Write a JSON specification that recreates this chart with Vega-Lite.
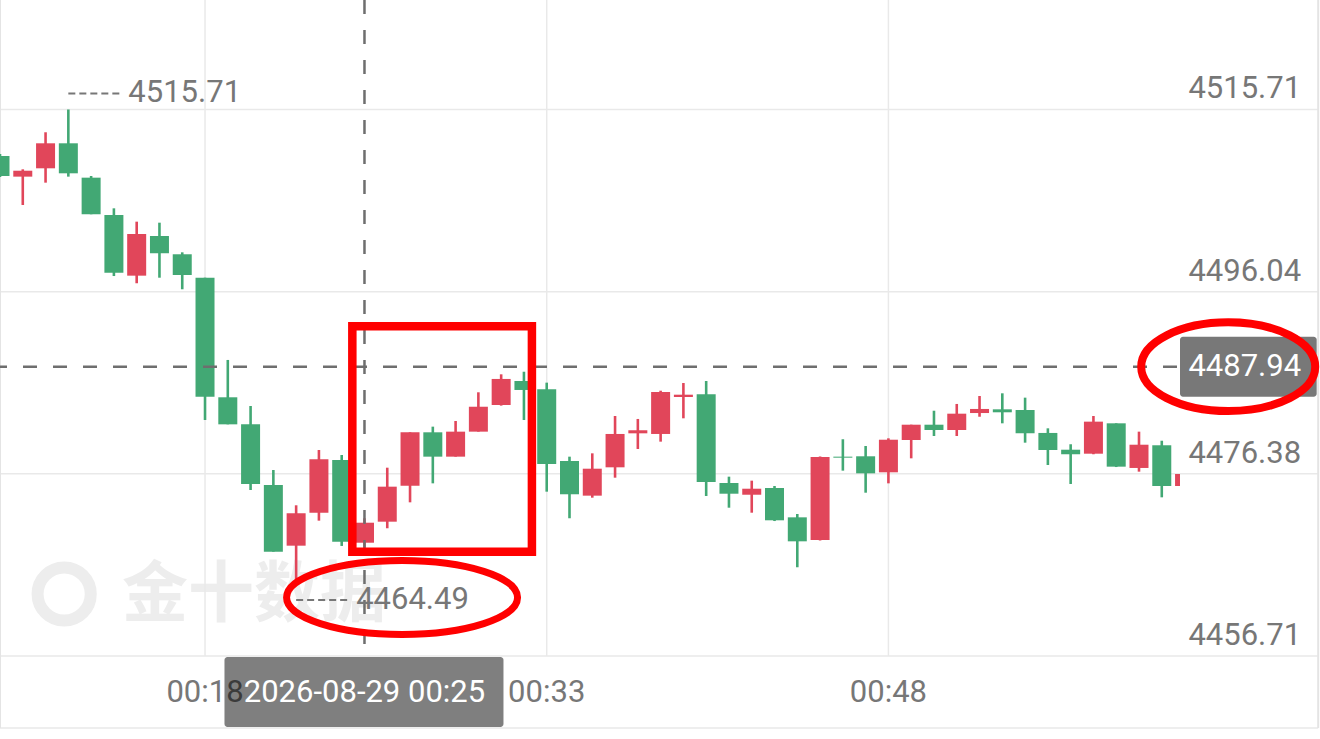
{
  "$schema": "https://vega.github.io/schema/vega-lite/v6.json",
  "width": 1180,
  "height": 656,
  "autosize": {"type": "none"},
  "padding": {"left": 0, "top": 0, "right": 140, "bottom": 83},
  "background": "white",
  "config": {"view": {"stroke": null}},
  "datasets": {
    "k": [
      {"t": "2026-08-29T00:09:00", "open": 4510.69, "high": 4510.91, "low": 4508.42, "close": 4508.53},
      {"t": "2026-08-29T00:10:00", "open": 4508.46, "high": 4509.25, "low": 4505.40, "close": 4509.10},
      {"t": "2026-08-29T00:11:00", "open": 4509.36, "high": 4513.25, "low": 4507.81, "close": 4512.06},
      {"t": "2026-08-29T00:12:00", "open": 4512.06, "high": 4515.71, "low": 4508.46, "close": 4508.82},
      {"t": "2026-08-29T00:13:00", "open": 4508.35, "high": 4508.53, "low": 4504.40, "close": 4504.40},
      {"t": "2026-08-29T00:14:00", "open": 4504.32, "high": 4505.04, "low": 4497.73, "close": 4498.09},
      {"t": "2026-08-29T00:15:00", "open": 4497.77, "high": 4503.60, "low": 4496.95, "close": 4502.27},
      {"t": "2026-08-29T00:16:00", "open": 4502.05, "high": 4503.49, "low": 4497.55, "close": 4500.19},
      {"t": "2026-08-29T00:17:00", "open": 4500.08, "high": 4500.29, "low": 4496.30, "close": 4497.84},
      {"t": "2026-08-29T00:18:00", "open": 4497.55, "high": 4497.55, "low": 4482.19, "close": 4484.70},
      {"t": "2026-08-29T00:19:00", "open": 4484.64, "high": 4488.67, "low": 4481.72, "close": 4481.72},
      {"t": "2026-08-29T00:20:00", "open": 4481.72, "high": 4483.70, "low": 4474.63, "close": 4475.28},
      {"t": "2026-08-29T00:21:00", "open": 4475.17, "high": 4476.79, "low": 4467.97, "close": 4467.97},
      {"t": "2026-08-29T00:22:00", "open": 4468.62, "high": 4472.98, "low": 4464.49, "close": 4472.12},
      {"t": "2026-08-29T00:23:00", "open": 4472.18, "high": 4478.95, "low": 4471.32, "close": 4477.95},
      {"t": "2026-08-29T00:24:00", "open": 4477.87, "high": 4478.41, "low": 4468.59, "close": 4469.05},
      {"t": "2026-08-29T00:25:00", "open": 4468.94, "high": 4471.58, "low": 4468.40, "close": 4471.10},
      {"t": "2026-08-29T00:26:00", "open": 4471.21, "high": 4477.04, "low": 4470.50, "close": 4474.99},
      {"t": "2026-08-29T00:27:00", "open": 4475.10, "high": 4480.86, "low": 4473.30, "close": 4480.86},
      {"t": "2026-08-29T00:28:00", "open": 4480.86, "high": 4481.47, "low": 4475.35, "close": 4478.23},
      {"t": "2026-08-29T00:29:00", "open": 4478.23, "high": 4482.08, "low": 4478.23, "close": 4480.93},
      {"t": "2026-08-29T00:30:00", "open": 4480.93, "high": 4485.18, "low": 4480.93, "close": 4483.62},
      {"t": "2026-08-29T00:31:00", "open": 4483.81, "high": 4487.12, "low": 4483.74, "close": 4486.62},
      {"t": "2026-08-29T00:32:00", "open": 4486.40, "high": 4487.40, "low": 4482.19, "close": 4485.43},
      {"t": "2026-08-29T00:33:00", "open": 4485.50, "high": 4486.22, "low": 4474.45, "close": 4477.44},
      {"t": "2026-08-29T00:34:00", "open": 4477.76, "high": 4478.23, "low": 4471.58, "close": 4474.17},
      {"t": "2026-08-29T00:35:00", "open": 4474.02, "high": 4478.59, "low": 4473.80, "close": 4476.93},
      {"t": "2026-08-29T00:36:00", "open": 4477.08, "high": 4482.62, "low": 4475.96, "close": 4480.68},
      {"t": "2026-08-29T00:37:00", "open": 4480.75, "high": 4482.30, "low": 4479.06, "close": 4481.08},
      {"t": "2026-08-29T00:38:00", "open": 4480.68, "high": 4485.35, "low": 4479.85, "close": 4485.21},
      {"t": "2026-08-29T00:39:00", "open": 4484.67, "high": 4486.18, "low": 4482.37, "close": 4484.92},
      {"t": "2026-08-29T00:40:00", "open": 4484.96, "high": 4486.40, "low": 4473.98, "close": 4475.49},
      {"t": "2026-08-29T00:41:00", "open": 4475.39, "high": 4476.07, "low": 4472.72, "close": 4474.23},
      {"t": "2026-08-29T00:42:00", "open": 4474.12, "high": 4475.64, "low": 4472.18, "close": 4474.77},
      {"t": "2026-08-29T00:43:00", "open": 4474.85, "high": 4475.06, "low": 4471.28, "close": 4471.36},
      {"t": "2026-08-29T00:44:00", "open": 4471.68, "high": 4472.04, "low": 4466.29, "close": 4469.09},
      {"t": "2026-08-29T00:45:00", "open": 4469.23, "high": 4478.25, "low": 4469.18, "close": 4478.19},
      {"t": "2026-08-29T00:46:00", "open": 4478.23, "high": 4480.11, "low": 4476.72, "close": 4478.12},
      {"t": "2026-08-29T00:47:00", "open": 4478.27, "high": 4479.38, "low": 4474.34, "close": 4476.43},
      {"t": "2026-08-29T00:48:00", "open": 4476.54, "high": 4480.21, "low": 4475.35, "close": 4480.06},
      {"t": "2026-08-29T00:49:00", "open": 4480.03, "high": 4481.68, "low": 4478.05, "close": 4481.68},
      {"t": "2026-08-29T00:50:00", "open": 4481.68, "high": 4483.19, "low": 4480.46, "close": 4481.11},
      {"t": "2026-08-29T00:51:00", "open": 4481.11, "high": 4483.92, "low": 4480.46, "close": 4482.87},
      {"t": "2026-08-29T00:52:00", "open": 4482.94, "high": 4484.78, "low": 4482.54, "close": 4483.38},
      {"t": "2026-08-29T00:53:00", "open": 4483.34, "high": 4485.07, "low": 4481.83, "close": 4483.02},
      {"t": "2026-08-29T00:54:00", "open": 4483.27, "high": 4484.60, "low": 4479.74, "close": 4480.75},
      {"t": "2026-08-29T00:55:00", "open": 4480.79, "high": 4481.29, "low": 4477.33, "close": 4478.95},
      {"t": "2026-08-29T00:56:00", "open": 4478.98, "high": 4479.57, "low": 4475.28, "close": 4478.49},
      {"t": "2026-08-29T00:57:00", "open": 4478.55, "high": 4482.62, "low": 4478.49, "close": 4482.01},
      {"t": "2026-08-29T00:58:00", "open": 4481.83, "high": 4481.83, "low": 4477.11, "close": 4477.15},
      {"t": "2026-08-29T00:59:00", "open": 4477.01, "high": 4480.93, "low": 4476.61, "close": 4479.52},
      {"t": "2026-08-29T01:00:00", "open": 4479.46, "high": 4479.95, "low": 4473.84, "close": 4475.06},
      {"t": "2026-08-29T01:01:00", "open": 4475.06, "high": 4476.36, "low": 4475.06, "close": 4476.36}
    ],
    "grid": [
      {"price": 4515.71},
      {"price": 4496.04},
      {"price": 4476.38},
      {"price": 4456.71}
    ],
    "ticks": [
      {"t": "2026-08-29T00:18:00"},
      {"t": "2026-08-29T00:33:00"},
      {"t": "2026-08-29T00:48:00"}
    ],
    "cross": [
      {"t": "2026-08-29T00:25:00", "price": 4487.94}
    ],
    "ext": [
      {"t": "2026-08-29T00:12:00", "price": 4515.71, "kind": "max"},
      {"t": "2026-08-29T00:22:00", "price": 4464.49, "kind": "min"}
    ],
    "wm": [
      {"item": "logo", "t": "2026-08-29T00:11:49", "price": 4463.40},
      {"item": "text", "t": "2026-08-29T00:20:09", "price": 4463.40, "label": "金十数据"}
    ],
    "box": [
      {"t0": "2026-08-29T00:24:28", "t1": "2026-08-29T00:32:21", "p0": 4492.31, "p1": 4467.97}
    ],
    "ell": [
      {"which": "low", "t": "2026-08-29T00:26:39", "price": 4463.03},
      {"which": "last", "t": "2026-08-29T01:02:55", "price": 4487.94}
    ]
  },
  "layer": [
    {
      "data": {"name": "wm"},
      "transform": [{"filter": "datum.item === 'logo'"}],
      "mark": {"type": "point", "shape": "circle", "filled": false, "stroke": "#ededed", "strokeWidth": 12, "size": 2827, "opacity": 1},
      "encoding": {
        "x": {"field": "t", "type": "temporal", "axis": null,
              "scale": {"domain": [{"year": 2026, "month": 8, "date": 29, "hours": 0, "minutes": 9}, {"year": 2026, "month": 8, "date": 29, "hours": 1, "minutes": 0, "seconds": 48}], "nice": false, "padding": 0}},
        "y": {"field": "price", "type": "quantitative", "axis": null,
              "scale": {"domain": [4456.71, 4527.53], "nice": false, "zero": false, "padding": 0}}
      }
    },
    {
      "data": {"name": "wm"},
      "transform": [{"filter": "datum.item === 'text'"}],
      "mark": {"type": "text", "font": "Noto Sans CJK SC", "fontWeight": "bold", "fontSize": 66, "color": "#ededed", "align": "center", "baseline": "middle", "dy": 2},
      "encoding": {
        "x": {"field": "t", "type": "temporal", "axis": null},
        "y": {"field": "price", "type": "quantitative", "axis": null},
        "text": {"field": "label"}
      }
    },
    {
      "data": {"name": "grid"},
      "mark": {"type": "rule", "stroke": "#e9e9e9", "strokeWidth": 1.5},
      "encoding": {
        "y": {"field": "price", "type": "quantitative", "axis": null},
        "x": {"datum": {"year": 2026, "month": 8, "date": 29, "hours": 0, "minutes": 9}, "type": "temporal", "axis": null},
        "x2": {"datum": {"year": 2026, "month": 8, "date": 29, "hours": 1, "minutes": 6, "seconds": 52}}
      }
    },
    {
      "data": {"name": "ticks"},
      "mark": {"type": "rule", "stroke": "#e9e9e9", "strokeWidth": 1.5},
      "encoding": {
        "x": {"field": "t", "type": "temporal", "axis": null}
      }
    },
    {
      "data": {"name": "ticks"},
      "mark": {"type": "text", "font": "Roboto", "fontSize": 31, "color": "#777777", "align": "center", "baseline": "middle", "dy": 37},
      "encoding": {
        "x": {"field": "t", "type": "temporal", "axis": null},
        "y": {"datum": 4456.71, "type": "quantitative", "axis": null},
        "text": {"field": "t", "type": "temporal", "format": "%H:%M"}
      }
    },
    {
      "data": {"name": "cross"},
      "mark": {"type": "rule", "stroke": "#e9e9e9", "strokeWidth": 1.5},
      "encoding": {
        "y": {"datum": 4448.94, "type": "quantitative", "axis": null},
        "x": {"datum": {"year": 2026, "month": 8, "date": 29, "hours": 0, "minutes": 9}, "type": "temporal", "axis": null},
        "x2": {"datum": {"year": 2026, "month": 8, "date": 29, "hours": 1, "minutes": 6, "seconds": 52}}
      }
    },
    {
      "data": {"name": "cross"},
      "mark": {"type": "rule", "stroke": "#e4e4e4", "strokeWidth": 2},
      "encoding": {
        "x": {"datum": {"year": 2026, "month": 8, "date": 29, "hours": 0, "minutes": 9}, "type": "temporal", "axis": null},
        "y": {"datum": 4527.53, "type": "quantitative", "axis": null},
        "y2": {"datum": 4448.94}
      }
    },
    {
      "data": {"name": "cross"},
      "mark": {"type": "rule", "stroke": "#e4e4e4", "strokeWidth": 2},
      "encoding": {
        "x": {"datum": {"year": 2026, "month": 8, "date": 29, "hours": 1, "minutes": 6, "seconds": 52}, "type": "temporal", "axis": null},
        "y": {"datum": 4527.53, "type": "quantitative", "axis": null},
        "y2": {"datum": 4448.94}
      }
    },
    {
      "data": {"name": "k"},
      "mark": {"type": "rule", "strokeWidth": 2.6, "clip": true},
      "encoding": {
        "x": {"field": "t", "type": "temporal", "axis": null},
        "y": {"field": "low", "type": "quantitative", "axis": null},
        "y2": {"field": "high"},
        "color": {"condition": {"test": "datum.close >= datum.open", "value": "#e1465a"}, "value": "#42a874"}
      }
    },
    {
      "data": {"name": "k"},
      "mark": {"type": "bar", "size": 19, "clip": true, "orient": "vertical"},
      "encoding": {
        "x": {"field": "t", "type": "temporal", "axis": null},
        "y": {"field": "open", "type": "quantitative", "axis": null},
        "y2": {"field": "close"},
        "color": {"condition": {"test": "datum.close >= datum.open", "value": "#e1465a"}, "value": "#42a874"}
      }
    },
    {
      "data": {"name": "cross"},
      "mark": {"type": "rule", "stroke": "#6e6e6e", "strokeWidth": 2.5, "strokeDash": [14, 16]},
      "encoding": {
        "x": {"field": "t", "type": "temporal", "axis": null}
      }
    },
    {
      "data": {"name": "cross"},
      "mark": {"type": "rule", "stroke": "#6e6e6e", "strokeWidth": 2.5, "strokeDash": [14, 16], "strokeDashOffset": -3},
      "encoding": {
        "y": {"field": "price", "type": "quantitative", "axis": null}
      }
    },
    {
      "data": {"name": "ext"},
      "transform": [{"filter": "datum.kind === 'max'"}],
      "mark": {"type": "rule", "stroke": "#777777", "strokeWidth": 2, "strokeDash": [7, 4], "x2Offset": 54, "yOffset": -16},
      "encoding": {
        "x": {"field": "t", "type": "temporal", "axis": null},
        "x2": {"field": "t"},
        "y": {"field": "price", "type": "quantitative", "axis": null}
      }
    },
    {
      "data": {"name": "ext"},
      "transform": [{"filter": "datum.kind === 'max'"}],
      "mark": {"type": "text", "font": "Roboto", "fontSize": 31, "color": "#777777", "align": "left", "baseline": "middle", "dx": 60, "dy": -16},
      "encoding": {
        "x": {"field": "t", "type": "temporal", "axis": null},
        "y": {"field": "price", "type": "quantitative", "axis": null},
        "text": {"field": "price", "type": "quantitative", "format": ".2f"}
      }
    },
    {
      "data": {"name": "ext"},
      "transform": [{"filter": "datum.kind === 'min'"}],
      "mark": {"type": "rule", "stroke": "#777777", "strokeWidth": 2, "strokeDash": [7, 4], "x2Offset": 54, "yOffset": 16},
      "encoding": {
        "x": {"field": "t", "type": "temporal", "axis": null},
        "x2": {"field": "t"},
        "y": {"field": "price", "type": "quantitative", "axis": null}
      }
    },
    {
      "data": {"name": "ext"},
      "transform": [{"filter": "datum.kind === 'min'"}],
      "mark": {"type": "text", "font": "Roboto", "fontSize": 31, "color": "#777777", "align": "left", "baseline": "middle", "dx": 60, "dy": 16},
      "encoding": {
        "x": {"field": "t", "type": "temporal", "axis": null},
        "y": {"field": "price", "type": "quantitative", "axis": null},
        "text": {"field": "price", "type": "quantitative", "format": ".2f"}
      }
    },
    {
      "data": {"name": "grid"},
      "mark": {"type": "text", "font": "Roboto", "fontSize": 31, "color": "#777777", "align": "right", "baseline": "alphabetic", "dy": -11},
      "encoding": {
        "x": {"datum": {"year": 2026, "month": 8, "date": 29, "hours": 1, "minutes": 6, "seconds": 7}, "type": "temporal", "axis": null},
        "y": {"field": "price", "type": "quantitative", "axis": null},
        "text": {"field": "price", "type": "quantitative", "format": ".2f"}
      }
    },
    {
      "data": {"name": "cross"},
      "mark": {"type": "rect", "fill": "#000000", "fillOpacity": 0.53, "cornerRadius": 3, "yOffset": -30, "y2Offset": 30},
      "encoding": {
        "x": {"datum": {"year": 2026, "month": 8, "date": 29, "hours": 1, "minutes": 0, "seconds": 48}, "type": "temporal", "axis": null},
        "x2": {"datum": {"year": 2026, "month": 8, "date": 29, "hours": 1, "minutes": 6, "seconds": 48}},
        "y": {"field": "price", "type": "quantitative", "axis": null},
        "y2": {"field": "price"}
      }
    },
    {
      "data": {"name": "cross"},
      "mark": {"type": "text", "font": "Roboto", "fontSize": 31, "color": "#ffffff", "align": "right", "baseline": "middle"},
      "encoding": {
        "x": {"datum": {"year": 2026, "month": 8, "date": 29, "hours": 1, "minutes": 6, "seconds": 7}, "type": "temporal", "axis": null},
        "y": {"field": "price", "type": "quantitative", "axis": null},
        "text": {"field": "price", "type": "quantitative", "format": ".2f"}
      }
    },
    {
      "data": {"name": "cross"},
      "mark": {"type": "rect", "fill": "#000000", "fillOpacity": 0.5, "cornerRadius": 3, "xOffset": -140, "x2Offset": 139, "yOffset": 1, "y2Offset": 71},
      "encoding": {
        "x": {"field": "t", "type": "temporal", "axis": null},
        "x2": {"field": "t"},
        "y": {"datum": 4456.71, "type": "quantitative", "axis": null},
        "y2": {"datum": 4456.71}
      }
    },
    {
      "data": {"name": "cross"},
      "mark": {"type": "text", "font": "Roboto", "fontSize": 31, "color": "#ffffff", "align": "center", "baseline": "middle", "dy": 37},
      "encoding": {
        "x": {"field": "t", "type": "temporal", "axis": null},
        "y": {"datum": 4456.71, "type": "quantitative", "axis": null},
        "text": {"field": "t", "type": "temporal", "format": "%Y-%m-%d %H:%M"}
      }
    },
    {
      "data": {"name": "box"},
      "mark": {"type": "rect", "filled": false, "stroke": "#ff0000", "strokeWidth": 8.5, "fill": null},
      "encoding": {
        "x": {"field": "t0", "type": "temporal", "axis": null},
        "x2": {"field": "t1"},
        "y": {"field": "p0", "type": "quantitative", "axis": null},
        "y2": {"field": "p1"}
      }
    },
    {
      "data": {"name": "ell"},
      "transform": [{"filter": "datum.which === 'low'"}],
      "mark": {"type": "point", "filled": false, "stroke": "#ff0000", "strokeWidth": 7, "opacity": 1, "size": 53361,
               "shape": "M-1,0C-1,-0.1767,-0.5523,-0.32,0,-0.32C0.5523,-0.32,1,-0.1767,1,0C1,0.1767,0.5523,0.32,0,0.32C-0.5523,0.32,-1,0.1767,-1,0Z"},
      "encoding": {
        "x": {"field": "t", "type": "temporal", "axis": null},
        "y": {"field": "price", "type": "quantitative", "axis": null}
      }
    },
    {
      "data": {"name": "ell"},
      "transform": [{"filter": "datum.which === 'last'"}],
      "mark": {"type": "point", "filled": false, "stroke": "#ff0000", "strokeWidth": 8, "opacity": 1, "size": 30276,
               "shape": "M-1,0C-1,-0.2817,-0.5523,-0.51,0,-0.51C0.5523,-0.51,1,-0.2817,1,0C1,0.2817,0.5523,0.51,0,0.51C-0.5523,0.51,-1,0.2817,-1,0Z"},
      "encoding": {
        "x": {"field": "t", "type": "temporal", "axis": null},
        "y": {"field": "price", "type": "quantitative", "axis": null}
      }
    }
  ]
}
